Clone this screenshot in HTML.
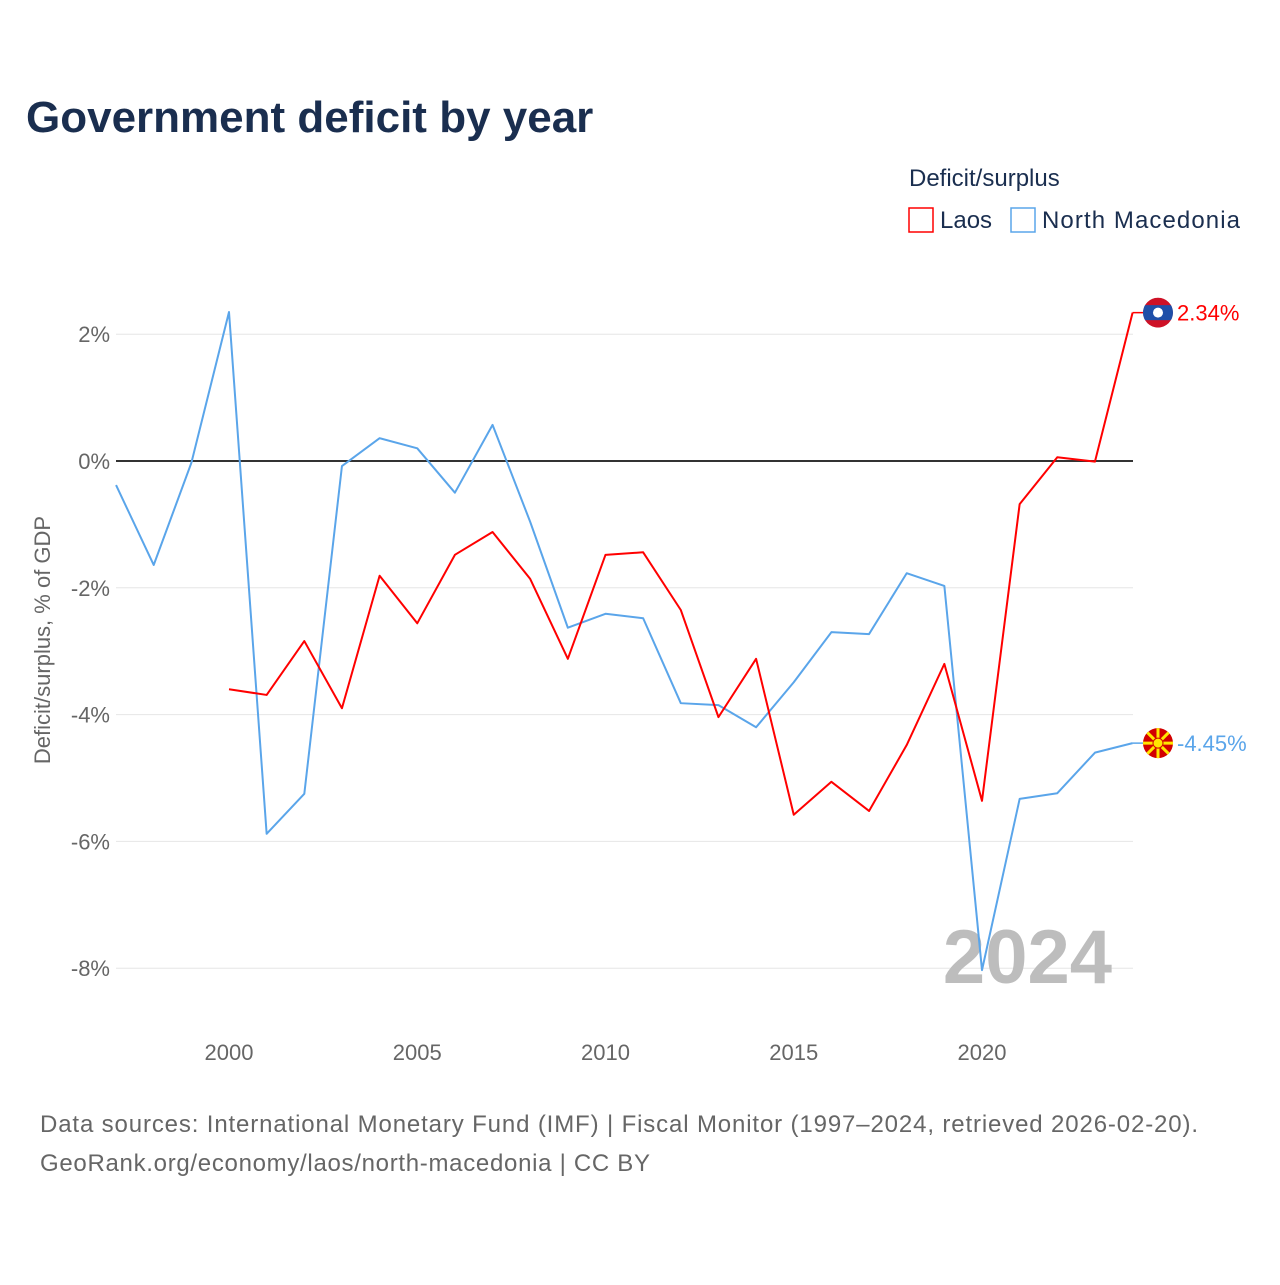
<!DOCTYPE html>
<html><head><meta charset="utf-8"><style>
body{margin:0;background:#fff;font-family:"Liberation Sans",sans-serif}
</style></head><body>
<svg width="1280" height="1280" xmlns="http://www.w3.org/2000/svg" style="font-family:'Liberation Sans',sans-serif">
<defs><clipPath id="laclip"><circle cx="1158" cy="313" r="15"/></clipPath></defs>
<text x="26" y="132" font-size="44" font-weight="bold" fill="#1a2e4f">Government deficit by year</text>
<text x="909" y="186" font-size="24" fill="#1a2e4f">Deficit/surplus</text>
<g><rect x="909" y="208" width="24" height="24" fill="none" stroke="#ff0000" stroke-width="1.5"/><text x="940" y="228" font-size="24" fill="#1a2e4f">Laos</text></g>
<g><rect x="1011" y="208" width="24" height="24" fill="none" stroke="#5aa5ea" stroke-width="1.5"/><text x="1042" y="228" font-size="24" fill="#1a2e4f" textLength="198">North Macedonia</text></g>
<g id="grid"></g>
<text x="1112" y="983" font-size="76" font-weight="bold" fill="#bdbdbd" text-anchor="end">2024</text>
<g id="plot"></g>
<text transform="translate(50,640) rotate(-90)" font-size="22" fill="#666" text-anchor="middle">Deficit/surplus, % of GDP</text>
<text x="40" y="1132" font-size="24" fill="#666" textLength="1158">Data sources: International Monetary Fund (IMF) | Fiscal Monitor (1997–2024, retrieved 2026-02-20).</text>
<text x="40" y="1171" font-size="24" fill="#666" textLength="610">GeoRank.org/economy/laos/north-macedonia | CC BY</text>
</svg>
<script>
const yearsNM=[1997,1998,1999,2000,2001,2002,2003,2004,2005,2006,2007,2008,2009,2010,2011,2012,2013,2014,2015,2016,2017,2018,2019,2020,2021,2022,2023,2024];
const valuesNM=[-0.38,-1.64,-0.03,2.35,-5.88,-5.25,-0.08,0.36,0.2,-0.5,0.57,-0.96,-2.63,-2.41,-2.48,-3.82,-3.85,-4.2,-3.49,-2.7,-2.73,-1.77,-1.97,-8.03,-5.33,-5.24,-4.6,-4.45];
const yearsLA=[2000,2001,2002,2003,2004,2005,2006,2007,2008,2009,2010,2011,2012,2013,2014,2015,2016,2017,2018,2019,2020,2021,2022,2023,2024];
const valuesLA=[-3.6,-3.69,-2.84,-3.9,-1.81,-2.56,-1.48,-1.12,-1.86,-3.12,-1.48,-1.44,-2.35,-4.04,-3.12,-5.58,-5.06,-5.52,-4.48,-3.2,-5.36,-0.68,0.06,-0.01,2.34];
const yTicks=[2,0,-2,-4,-6,-8];
const xTicks=[2000,2005,2010,2015,2020];
const NS="http://www.w3.org/2000/svg";
const X=y=>229+(y-2000)*37.65;
const Y=v=>461-v*63.4;
const grid=document.getElementById('grid'),plot=document.getElementById('plot');
function mk(tag,attrs,parent){const e=document.createElementNS(NS,tag);for(const k in attrs)e.setAttribute(k,attrs[k]);parent.appendChild(e);return e;}
yTicks.forEach(t=>{
 if(t!==0){const l=mk('line',{x1:116,x2:1133,y1:Y(t),y2:Y(t),stroke:'#e6e6e6','stroke-width':1},grid);
 
 }
 const tx=mk('text',{x:110,y:Y(t)+8,'font-size':22,fill:'#666','text-anchor':'end'},grid);tx.textContent=t+'%';
 
 
});
xTicks.forEach(t=>{const tx=mk('text',{x:X(t),y:1060,'font-size':22,fill:'#666','text-anchor':'middle'},grid);tx.textContent=t;
 
 });
const zl=mk('line',{x1:116,x2:1133,y1:Y(0),y2:Y(0),stroke:'#333','stroke-width':2},plot);


function series(ys,vs,c,name){const p=mk('polyline',{points:ys.map((y,i)=>X(y)+','+Y(vs[i])).join(' '),fill:'none',stroke:c,'stroke-width':2,'stroke-linejoin':'round'},plot);
 
 }
series(yearsNM,valuesNM,'#5aa5ea','line-north-macedonia');
series(yearsLA,valuesLA,'#ff0000','line-laos');
function endLabel(v,c,name,flag){const y=Y(v),x0=X(2024);
 mk('line',{x1:x0,x2:1146,y1:y,y2:y,stroke:c,'stroke-width':1.5},plot);
 const g=mk('g',{},plot);
 
 
 if(flag==='la'){document.querySelector('#laclip circle').setAttribute('cy',y);
  const gc=mk('g',{'clip-path':'url(#laclip)'},g);
  mk('circle',{cx:1158,cy:y,r:15,fill:'#ce1126'},gc);mk('rect',{x:1143,y:y-7.5,width:30,height:15,fill:'#1f4fa8'},gc);mk('circle',{cx:1158,cy:y,r:5,fill:'#fff'},gc);}
 else{mk('circle',{cx:1158,cy:y,r:15,fill:'#d20000'},g);for(let a=0;a<8;a++){const r=a*Math.PI/4;mk('line',{x1:1158,y1:y,x2:1158+15*Math.cos(r),y2:y+15*Math.sin(r),stroke:'#ffe600','stroke-width':3},g);}mk('circle',{cx:1158,cy:y,r:5,fill:'#ffe600',stroke:'#d20000','stroke-width':1},g);}
 const t=mk('text',{x:1177,y:y+8,'font-size':22,fill:c},plot);t.textContent=v.toFixed(2)+'%';
 
 }
endLabel(valuesLA[valuesLA.length-1],'#ff0000','laos','la');
endLabel(valuesNM[valuesNM.length-1],'#5aa5ea','north-macedonia','mk');
</script>
</body></html>
